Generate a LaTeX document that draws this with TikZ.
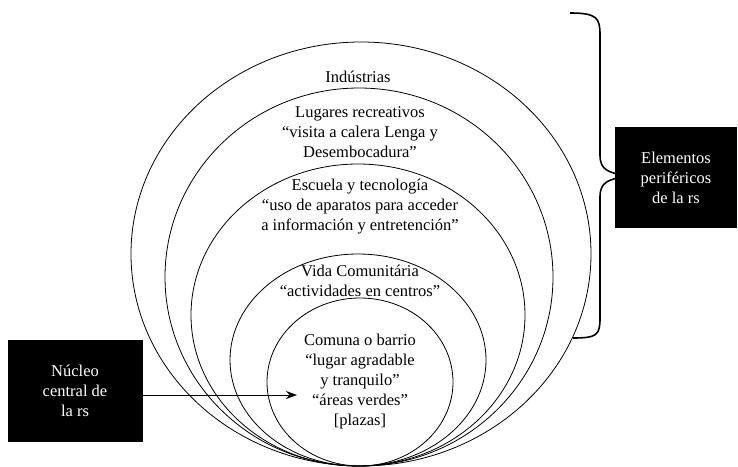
\documentclass[tikz,border=0pt]{standalone}
\usepackage{fontspec}
\setmainfont{Liberation Serif}
\usetikzlibrary{arrows.meta}

\begin{document}
\begin{tikzpicture}[x=1pt,y=-1pt,
		ring/.style={draw=black, line width=0.8pt},
		ringtext/.style={align=center, inner sep=0pt, font=\fontsize{16.5}{20}\selectfont},
		blackbox/.style={fill=black, text=white, align=center, inner sep=0pt, font=\fontsize{16.5}{20}\selectfont}]
		\useasboundingbox (0,0) rectangle (738,466);
		
		% nested rings, all meeting at the bottom
		\draw[ring] (361,254) ellipse [x radius=230pt, y radius=212pt];
		\draw[ring] (359,277) ellipse [x radius=194pt, y radius=189pt];
		\draw[ring] (358,315) ellipse [x radius=167pt, y radius=151pt];
		\draw[ring] (358,360) ellipse [x radius=128pt, y radius=106pt];
		\draw[ring] (360,382) ellipse [x radius=93pt, y radius=84pt];
		
		\node[ringtext] (industrias) at (358,77) {Indústrias};
		\node[ringtext] (lugares) at (360,132) {Lugares recreativos\\“visita a calera Lenga y\\Desembocadura”};
		\node[ringtext] (escuela) at (360,207) {Escuela y tecnología\\“uso de aparatos para acceder\\a información y entretención”};
		\node[ringtext] (vida) at (360,281) {Vida Comunitária\\“actividades en centros”};
		\node[ringtext] (comuna) at (360,382) {Comuna o barrio\\“lugar agradable\\y tranquilo”\\“áreas verdes”\\{[plazas]}};
		
		% brace for the outer rings
		\draw[line width=1.6pt] (570,13) .. controls (597,13) and (600,18) .. (600,35) -- (600,155)
			.. controls (600,170) and (608,172) .. (625,176)
			.. controls (608,180) and (600,182) .. (600,197) -- (600,318)
			.. controls (600,335) and (597,338) .. (573,338);
		
		\node[blackbox, minimum width=122pt, minimum height=101pt] (perifericos) at (676,177.5) {Elementos\\periféricos\\de la rs};
		\node[blackbox, minimum width=135pt, minimum height=102pt] (nucleo) at (75,391) {Núcleo\\central de\\la rs};
		
		\coordinate (tip) at (297,395);
		\draw[line width=0.9pt, -{Stealth[length=11pt, width=8pt]}] (nucleo.east |- tip) -- (tip);
\end{tikzpicture}
\end{document}
